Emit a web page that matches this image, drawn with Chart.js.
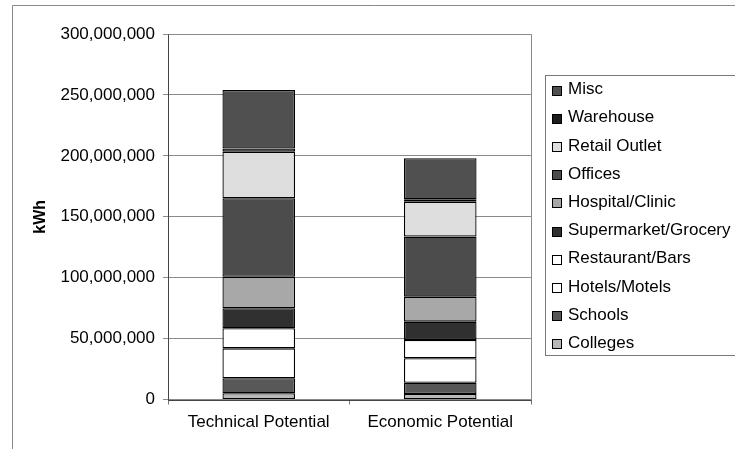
<!DOCTYPE html>
<html>
<head>
<meta charset="utf-8">
<script src="https://cdn.jsdelivr.net/npm/chart.js@4/dist/chart.umd.min.js"></script>
<style>
  html, body { margin: 0; padding: 0; background: #fff; }
  #wrap { width: 735px; height: 449px; position: relative; }
</style>
</head>
<body>
<div id="wrap"><canvas id="c" width="735" height="449"></canvas></div>
<script>
// Categories on the x axis
const categories = ['Technical Potential', 'Economic Potential'];

// Sectors, bottom of the stack first
const sectors = ['Colleges', 'Schools', 'Hotels/Motels', 'Restaurant/Bars', 'Supermarket/Grocery',
                 'Hospital/Clinic', 'Offices', 'Retail Outlet', 'Warehouse', 'Misc'];

// kWh per sector: [Technical, Economic]
const colleges    = [5100000, 4500000];
const schools     = [12300000, 9300000];
const hotels      = [24600000, 20000000];
const restaurants = [16500000, 15100000];
const supermarket = [16400000, 15000000];
const hospital    = [25900000, 20500000];
const offices     = [64400000, 49300000];
const retail      = [38200000, 28700000];
const warehouse   = [2600000, 2000000];
const misc        = [48100000, 33600000];

// Value axis ticks
const yTicks = [0, 50000000, 100000000, 150000000, 200000000, 250000000, 300000000];

const sectorValues = [colleges, schools, hotels, restaurants, supermarket,
                      hospital, offices, retail, warehouse, misc];
const sectorFills = ['#b8b8b8', '#585858', '#ffffff', '#ffffff', '#303030',
                     '#a8a8a8', '#4c4c4c', '#dedede', '#1c1c1c', '#505050'];

const FONT = "Arial, 'Liberation Sans', sans-serif";
const FONT_SIZE = 17;

// Outer frame, plot-area border and axis lines
const framePlugin = {
  id: 'frame',
  beforeDraw(chart) {
    const ctx = chart.ctx;
    ctx.save();
    ctx.fillStyle = '#fff';
    ctx.fillRect(0, 0, chart.width, chart.height);
    ctx.strokeStyle = '#8a8a8a';
    ctx.lineWidth = 1;
    ctx.beginPath();
    ctx.moveTo(12.5, chart.height + 2);
    ctx.lineTo(12.5, 5.5);
    ctx.lineTo(chart.width + 2, 5.5);
    ctx.stroke();
    ctx.restore();
  },
  afterDatasetsDraw(chart) {
    const {ctx, chartArea: a} = chart;
    ctx.save();
    ctx.strokeStyle = '#8a8a8a';
    ctx.lineWidth = 1;
    ctx.beginPath();
    ctx.moveTo(Math.round(a.left) + 0.5, Math.round(a.top) + 0.5);
    ctx.lineTo(Math.round(a.right) + 0.5, Math.round(a.top) + 0.5);
    ctx.lineTo(Math.round(a.right) + 0.5, Math.round(a.bottom) + 0.5);
    ctx.stroke();
    ctx.strokeStyle = '#444';
    ctx.beginPath();
    ctx.moveTo(Math.round(a.left) + 0.5, Math.round(a.top) + 0.5);
    ctx.lineTo(Math.round(a.left) + 0.5, Math.round(a.bottom) + 0.5);
    ctx.lineTo(Math.round(a.right) + 0.5, Math.round(a.bottom) + 0.5);
    ctx.stroke();
    ctx.restore();
  }
};

// Boxed legend on the right, top entry = top of the stack
const boxLegend = {
  id: 'boxLegend',
  afterDraw(chart) {
    const ctx = chart.ctx;
    const ds = chart.data.datasets.slice().reverse();
    ctx.save();
    ctx.strokeStyle = '#7a7a7a';
    ctx.lineWidth = 1;
    ctx.strokeRect(545.5, 75.5, 220, 280);
    ctx.font = FONT_SIZE + 'px ' + FONT;
    ctx.textBaseline = 'middle';
    ctx.textAlign = 'left';
    ds.forEach((d, i) => {
      const y = 89.5 + i * 28.2;
      ctx.fillStyle = d.backgroundColor;
      ctx.fillRect(552.5, Math.round(y - 4) + 0.5, 9, 9);
      ctx.strokeStyle = '#000';
      ctx.strokeRect(552.5, Math.round(y - 4) + 0.5, 9, 9);
      ctx.fillStyle = '#000';
      ctx.fillText(d.label, 568, y);
    });
    ctx.restore();
  }
};

new Chart(document.getElementById('c'), {
  type: 'bar',
  data: {
    labels: categories,
    datasets: sectors.map((name, i) => ({
      label: name,
      data: sectorValues[i],
      backgroundColor: sectorFills[i],
      borderColor: '#000',
      borderWidth: 1.3,
      borderSkipped: false,
      categoryPercentage: 1.0,
      barPercentage: 0.4
    }))
  },
  options: {
    responsive: false,
    animation: false,
    events: [],
    layout: { padding: { left: 0, right: 204, top: 34, bottom: 0 } },
    plugins: {
      legend: { display: false },
      tooltip: { enabled: false }
    },
    scales: {
      x: {
        stacked: true,
        offset: true,
        grid: { display: true, drawOnChartArea: false, offset: true, tickLength: 5, color: '#777' },
        border: { display: false },
        ticks: { color: '#000', font: { family: FONT, size: FONT_SIZE }, padding: 8 },
        afterFit(s) { s.height = 49.5; }
      },
      y: {
        stacked: true,
        min: 0,
        max: 300000000,
        afterBuildTicks(s) { s.ticks = yTicks.map(v => ({ value: v })); },
        grid: { color: '#8a8a8a', lineWidth: 1, tickLength: 5 },
        border: { display: false },
        ticks: {
          color: '#000',
          font: { family: FONT, size: FONT_SIZE },
          padding: 8,
          callback: v => Number(v).toLocaleString('en-US')
        },
        title: {
          display: true,
          text: 'kWh',
          color: '#000',
          font: { family: FONT, size: 16, weight: 'bold' },
          padding: { top: 31, bottom: 0 }
        },
        afterFit(s) { s.width = 168; }
      }
    }
  },
  plugins: [framePlugin, boxLegend]
});
</script>
</body>
</html>
